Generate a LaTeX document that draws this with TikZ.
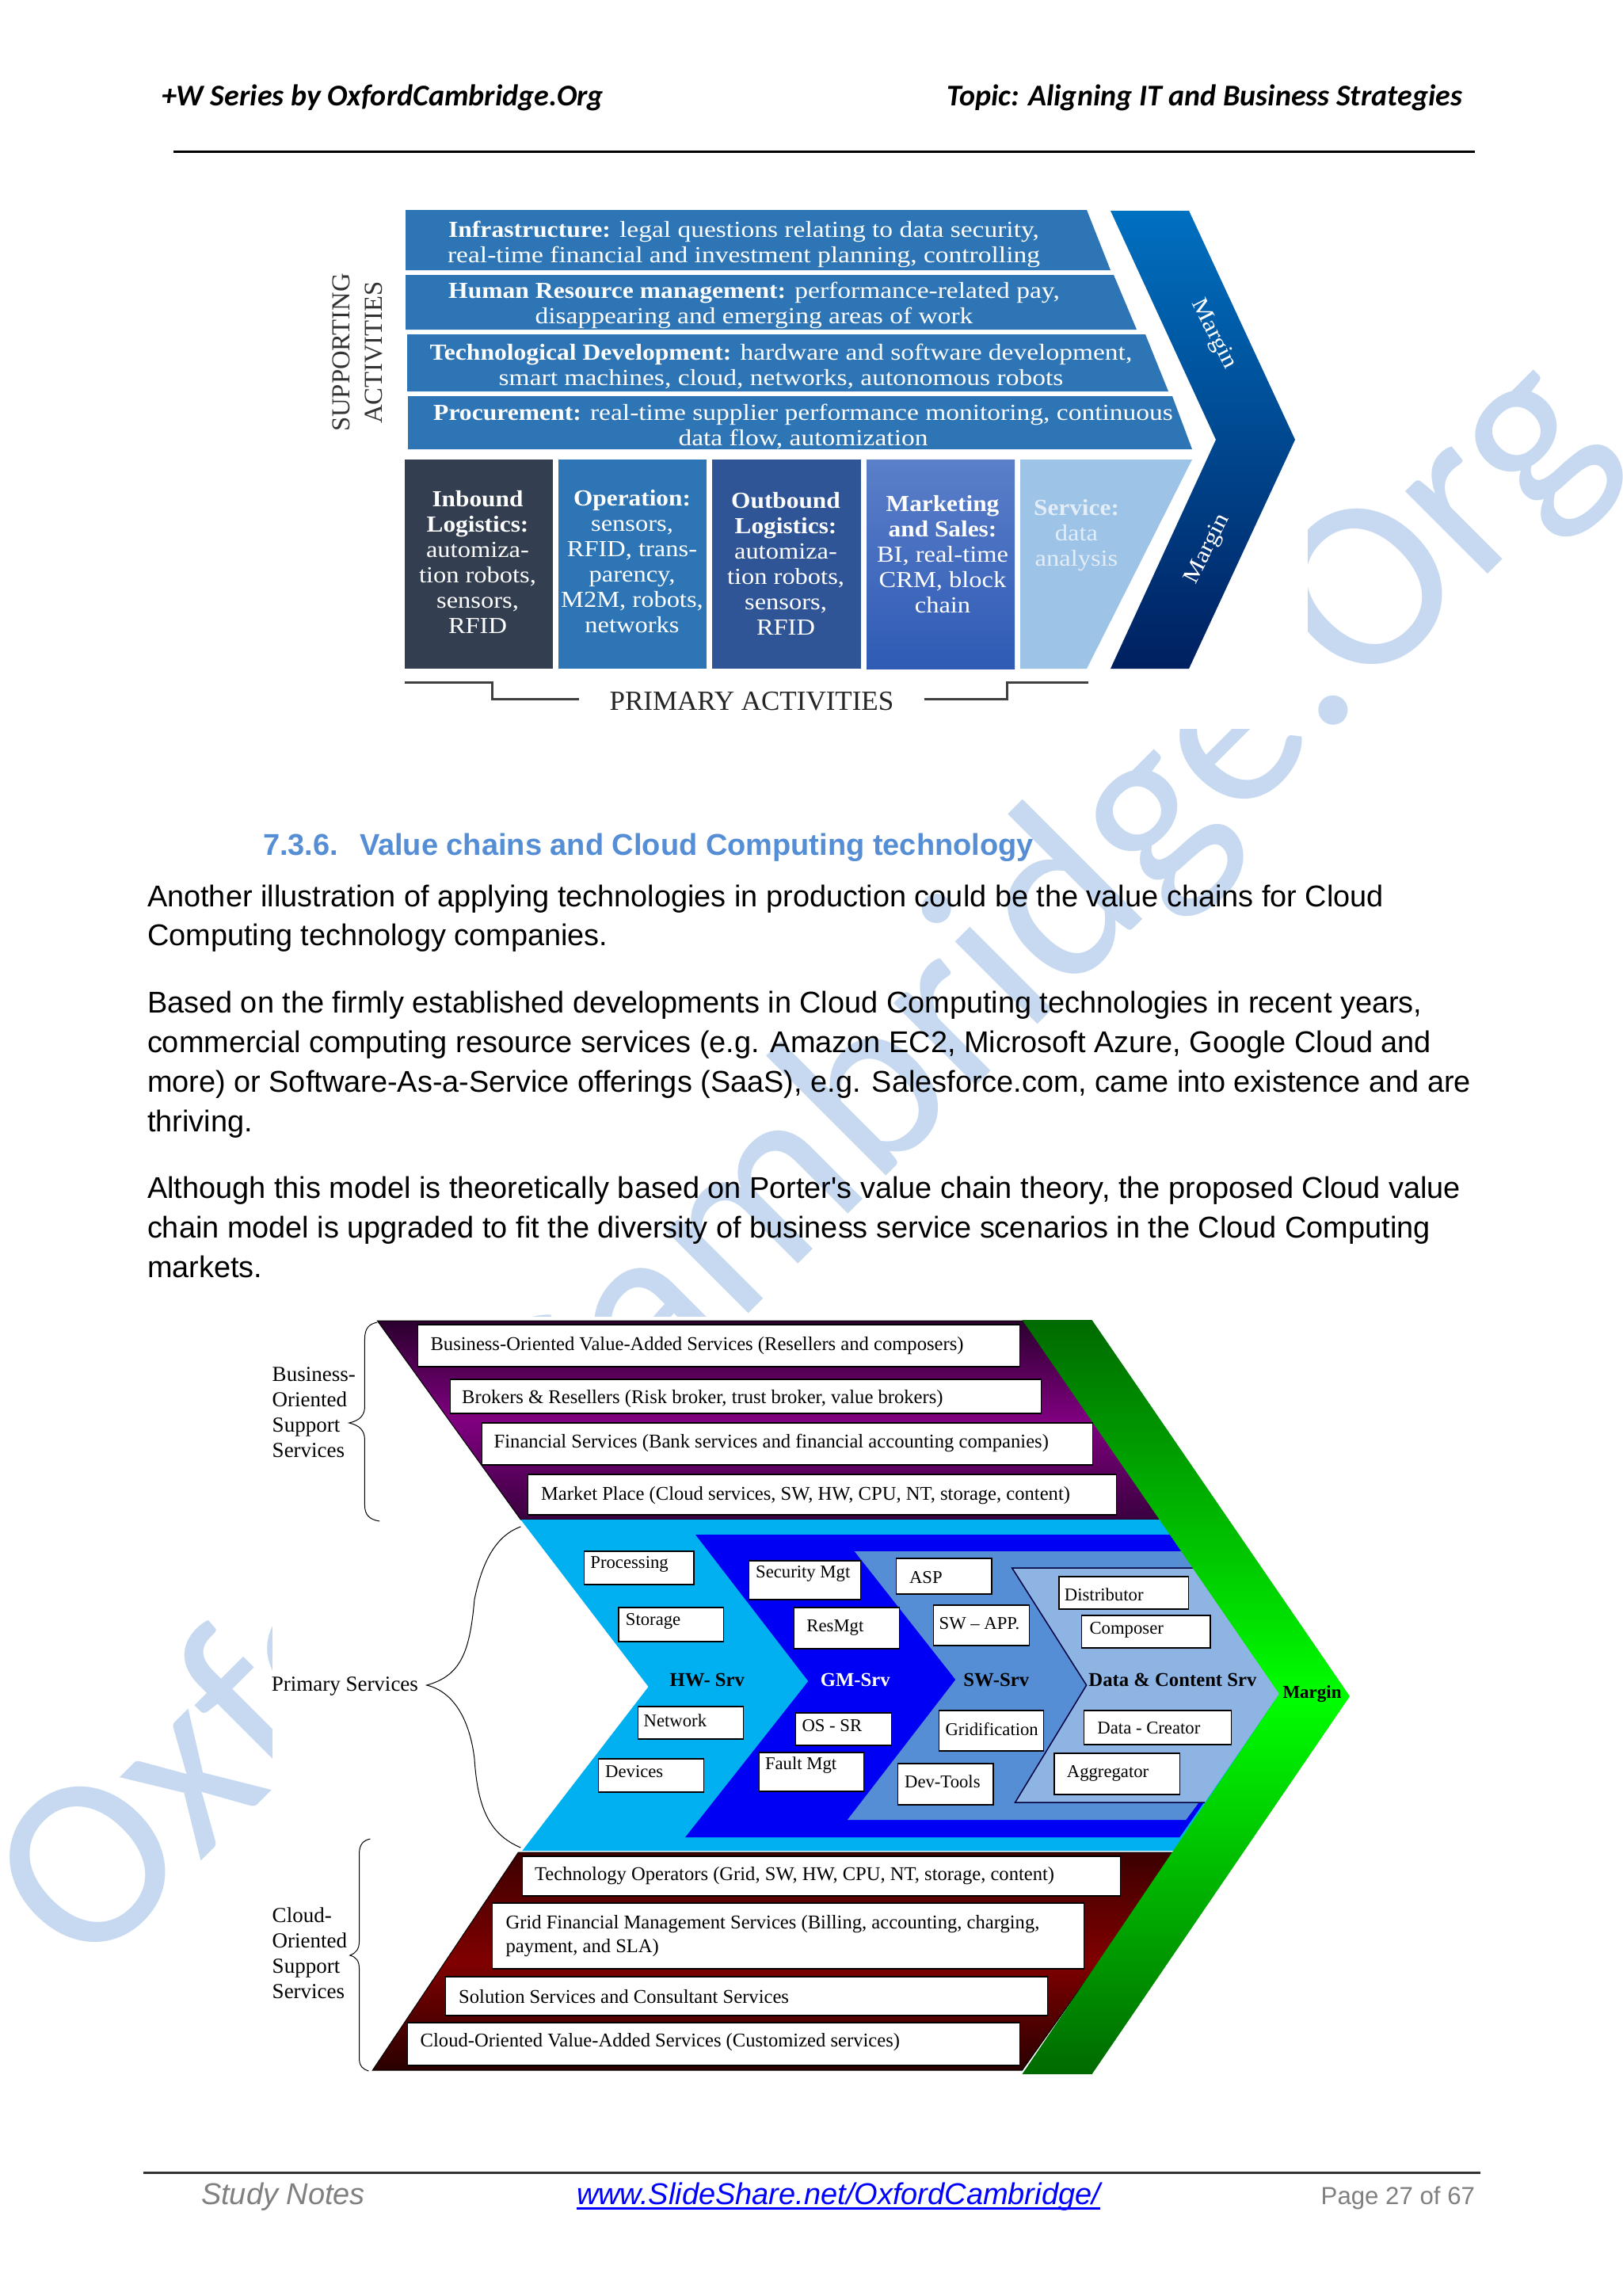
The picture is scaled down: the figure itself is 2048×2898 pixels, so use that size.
\documentclass[tikz,border=0pt]{standalone}
\usepackage{fontspec}
\setmainfont{Liberation Serif}
\newfontfamily\calf{Carlito}
\newfontfamily\arialf{Liberation Sans}
\newfontfamily\capf[FakeStretch=1.155,BoldFeatures={FakeStretch=1.09}]{Liberation Serif}
\newfontfamily\capg[FakeStretch=1.12,BoldFeatures={FakeStretch=1.08}]{Liberation Serif}
\definecolor{wmark}{HTML}{C6D9F0}
\definecolor{barblue}{HTML}{2E75B6}
\definecolor{boxa}{HTML}{333F50}
\definecolor{boxb}{HTML}{2E75B6}
\definecolor{boxc}{HTML}{2F5597}
\definecolor{boxdt}{HTML}{5B7FC9}
\definecolor{boxdb}{HTML}{2F5BB5}
\definecolor{boxe}{HTML}{9DC3E6}
\definecolor{boxetext}{HTML}{E3EDF8}
\definecolor{chevt}{HTML}{0070C0}
\definecolor{chevb}{HTML}{002060}
\definecolor{headblue}{HTML}{558ED5}
\definecolor{cyanhw}{HTML}{00B0F0}
\definecolor{bluegm}{HTML}{0000F5}
\definecolor{bluesw}{HTML}{558ED5}
\definecolor{bluedc}{HTML}{8EB4E3}
\definecolor{purpt}{HTML}{2A002E}
\definecolor{purpm}{HTML}{800080}
\definecolor{purpb}{HTML}{3A003F}
\definecolor{redt}{HTML}{3C0000}
\definecolor{redm}{HTML}{800000}
\definecolor{redb}{HTML}{2A0000}
\definecolor{greent}{HTML}{006A00}
\definecolor{greenm}{HTML}{00FF00}
\definecolor{greenb}{HTML}{006A00}
\tikzset{
  plain/.style={inner sep=0pt,outer sep=0pt},
  bodyline/.style={plain,anchor=base west,font=\arialf\fontsize{37.9}{50}\selectfont},
  captext/.style={plain,text=white,align=center,font=\capf\fontsize{29}{32}\selectfont},
  boxlabel/.style={plain,text=white,align=center,font=\capg\fontsize{29}{32}\selectfont},
  whitebox/.style={plain,draw=black,line width=1.2pt,fill=white},
  boxtext/.style={plain,anchor=west,align=left,yshift=-1.5pt,font=\fontsize{24.6}{30}\selectfont},
  smalltext/.style={plain,anchor=west,yshift=-1.5pt,font=\fontsize{22.7}{26}\selectfont},
  sidelabel/.style={plain,anchor=west,align=left,font=\fontsize{27}{32}\selectfont},
  srvlabel/.style={plain,font=\bfseries\fontsize{24.7}{30}\selectfont},
  bracefine/.style={draw=black,line width=1pt},
  bracketline/.style={draw=black!75,line width=3pt},
}
\newcommand{\wbx}[9]{%
  \pgfmathsetmacro\wbw{(#4-#2)*0.98929}\pgfmathsetmacro\wbh{#5-#3}%
  \node[whitebox,minimum width=\wbw pt,minimum height=\wbh pt,anchor=north west] (#1) at (#2,#3) {};
  \node[#9] (#1t) at (#6,#7) {#8};}
\begin{document}
\begin{tikzpicture}[x=1pt,y=-1pt]
\useasboundingbox (0,0) rectangle (2048,2898);
\fill[white] (0,0) rectangle (2048,2898);
\begin{scope}
\clip (0,0) rectangle (2048,2898);
\node[plain,rotate=45,anchor=base west,text=wmark,font=\calf\fontsize{308}{308}\selectfont] (wm) at (108,2495) {OxfordCambridge.Org};
\end{scope}
% white picture grounds
\fill[white] (380,240) rectangle (1651,920);
\fill[white] (344,1662) rectangle (1730,2640);

% header
\node[plain,anchor=base west,font=\calf\bfseries\itshape\fontsize{38}{44}\selectfont] (hl) at (204,134) {+W Series by OxfordCambridge.Org};
\node[plain,anchor=base east,font=\calf\bfseries\itshape\fontsize{38}{44}\selectfont] (hr) at (1846,134) {Topic: Aligning IT and Business Strategies};
\coordinate (ra) at (219,192); \coordinate (rb) at (1862,192);
\draw[line width=3pt] (ra) -- (rb);

% upper value chain
\fill[barblue] (512,265) -- (1372,265) -- (1402,341) -- (512,341) -- cycle;
\fill[barblue] (512,347) -- (1406,347) -- (1435,416) -- (512,416) -- cycle;
\fill[barblue] (514,422) -- (1446,422) -- (1475,494) -- (514,494) -- cycle;
\fill[barblue] (515,500) -- (1480,500) -- (1505,567) -- (515,567) -- cycle;
\fill[boxa] (511,580) rectangle (698,844);
\fill[boxb] (705,580) rectangle (892,844);
\fill[boxc] (899,580) rectangle (1087,844);
\shade[top color=boxdt,bottom color=boxdb] (1094,580) rectangle (1281,844);
\fill[boxe] (1288,580) -- (1505,580) -- (1372,844) -- (1288,844) -- cycle;
\shade[top color=chevt,bottom color=chevb] (1402,266) -- (1501,266) -- (1635,555) -- (1501,844) -- (1402,844) -- (1535,555) -- cycle;
\node[captext] (t1) at (939,308) {\textbf{Infrastructure:} legal questions relating to data security,\\real-time financial and investment planning, controlling};
\node[captext] (t2) at (952,385) {\textbf{Human Resource management:} performance-related pay,\\disappearing and emerging areas of work};
\node[captext] (t3) at (986,463) {\textbf{Technological Development:} hardware and software development,\\smart machines, cloud, networks, autonomous robots};
\node[captext] (t4) at (1014,539) {\textbf{Procurement:} real-time supplier performance monitoring, continuous\\data flow, automization};
\node[boxlabel] (p1) at (603,709) {\textbf{Inbound}\\\textbf{Logistics:}\\automiza-\\tion robots,\\sensors,\\RFID};
\node[boxlabel] (p2) at (798,709) {\textbf{Operation:}\\sensors,\\RFID, trans-\\parency,\\M2M, robots,\\networks};
\node[boxlabel] (p3) at (992,711) {\textbf{Outbound}\\\textbf{Logistics:}\\automiza-\\tion robots,\\sensors,\\RFID};
\node[boxlabel] (p4) at (1190,700) {\textbf{Marketing}\\\textbf{and Sales:}\\BI, real-time\\CRM, block\\chain};
\node[boxlabel,text=boxetext] (p5) at (1359,676) {\textbf{Service:}\\data\\analysis};
\node[plain,rotate=-63,text=white,font=\capg\fontsize{29}{32}\selectfont] (m1) at (1532,422) {Margin};
\node[plain,rotate=63,text=white,font=\capg\fontsize{29}{32}\selectfont] (m2) at (1525,693) {Margin};
\node[plain,rotate=90,align=center,text=black!80,font=\fontsize{32.7}{41}\selectfont] (sa) at (451,445) {SUPPORTING\\ACTIVITIES};
\node[plain,text=black!85,font=\fontsize{35}{40}\selectfont] (pa) at (949,885) {PRIMARY ACTIVITIES};
\coordinate (ba) at (511,861); \coordinate (bb) at (731,882);
\coordinate (bc) at (1167,882); \coordinate (bd) at (1374,861);
\draw[bracketline] (ba) -- (621,861) -- (621,882) -- (bb);
\draw[bracketline] (bc) -- (1271,882) -- (1271,861) -- (bd);

% heading and body
\node[plain,anchor=base west,text=headblue,font=\arialf\bfseries\fontsize{38}{44}\selectfont] (h0) at (332,1079) {7.3.6.};
\node[plain,anchor=base west,text=headblue,font=\arialf\bfseries\fontsize{38}{44}\selectfont] (h1) at (454,1079) {Value chains and Cloud Computing technology};
\node[bodyline] (b1) at (186,1144) {Another illustration of applying technologies in production could be the value chains for Cloud};
\node[bodyline] (b2) at (186,1193) {Computing technology companies.};
\node[bodyline] (b3) at (186,1278) {Based on the firmly established developments in Cloud Computing technologies in recent years,};
\node[bodyline] (b4) at (186,1328) {commercial computing resource services (e.g. Amazon EC2, Microsoft Azure, Google Cloud and};
\node[bodyline] (b5) at (186,1378) {more) or Software-As-a-Service offerings (SaaS), e.g. Salesforce.com, came into existence and are};
\node[bodyline] (b6) at (186,1428) {thriving.};
\node[bodyline] (b7) at (186,1512) {Although this model is theoretically based on Porter's value chain theory, the proposed Cloud value};
\node[bodyline] (b8) at (186,1562) {chain model is upgraded to fit the diversity of business service scenarios in the Cloud Computing};
\node[bodyline] (b9) at (186,1612) {markets.};

\begin{scope}[shift={(3.43pt,0pt)},xscale=0.98929]
% cloud value chain: bands
\shade[top color=purpt,bottom color=purpb,middle color=purpm,draw=black,line width=1pt] (478,1667) -- (1310,1667) -- (1485,1918) -- (661,1918) -- cycle;
\fill[cyanhw] (661,1918) -- (1490,1918) -- (1629,2138) -- (1502,2336) -- (663,2336) -- (824,2129) -- cycle;
\fill[bluegm] (884,1937) -- (1510,1937) -- (1629,2138) -- (1502,2319) -- (871,2319) -- (1028,2122) -- cycle;
\fill[bluesw] (1087,1958) -- (1520,1958) -- (1629,2138) -- (1510,2297) -- (1078,2297) -- (1216,2120) -- cycle;
\fill[bluedc] (1288,1979) -- (1530,1979) -- (1629,2138) -- (1534,2275) -- (1292,2275) -- (1383,2127) -- cycle;
\draw[black!75!blue,line width=1.5pt] (1534,1979) -- (1288,1979) -- (1383,2127) -- (1292,2275) -- (1534,2275);
\shade[top color=redt,bottom color=redb,middle color=redm,draw=black,line width=1pt] (658,2338) -- (1498,2338) -- (1301,2613) -- (472,2613) -- cycle;
\shade[top color=greent,bottom color=greenb,middle color=greenm] (1301,1666) -- (1390,1666) -- (1719,2141) -- (1390,2618) -- (1301,2618) -- (1629,2138) -- cycle;

% boxes
\wbx{c1}{530}{1672}{1298}{1725}{546}{1697}{Business-Oriented Value-Added Services (Resellers and composers)}{boxtext}
\wbx{c2}{571}{1741}{1325}{1784}{586}{1764}{Brokers \& Resellers (Risk broker, trust broker, value brokers)}{boxtext}
\wbx{c3}{612}{1796}{1391}{1849}{627}{1820}{Financial Services (Bank services and financial accounting companies)}{boxtext}
\wbx{c4}{670}{1861}{1421}{1912}{687}{1886}{Market Place (Cloud services, SW, HW, CPU, NT, storage, content)}{boxtext}
\wbx{s1}{742}{1958}{882}{2000}{750}{1973}{Processing}{smalltext}
\wbx{s2}{786}{2029}{920}{2072}{795}{2045}{Storage}{smalltext}
\wbx{s3}{811}{2154}{945}{2195}{818}{2170}{Network}{smalltext}
\wbx{s4}{760}{2220}{895}{2262}{769}{2235}{Devices}{smalltext}
\wbx{s5}{952}{1970}{1095}{2019}{961}{1985}{Security Mgt}{smalltext}
\wbx{s6}{1010}{2029}{1144}{2081}{1026}{2053}{ResMgt}{smalltext}
\wbx{s7}{1012}{2162}{1134}{2203}{1020}{2177}{OS - SR}{smalltext}
\wbx{s8}{965}{2212}{1099}{2261}{973}{2227}{Fault Mgt}{smalltext}
\wbx{s9}{1140}{1967}{1262}{2012}{1157}{1990}{ASP}{smalltext}
\wbx{s10}{1188}{2026}{1310}{2077}{1195}{2048}{SW -- APP.}{smalltext}
\wbx{s11}{1195}{2159}{1328}{2210}{1203}{2181}{Gridification}{smalltext}
\wbx{s12}{1142}{2226}{1264}{2278}{1151}{2247}{Dev-Tools}{smalltext}
\wbx{s13}{1348}{1990}{1513}{2031}{1355}{2011}{Distributor}{smalltext}
\wbx{s14}{1377}{2039}{1541}{2080}{1387}{2056}{Composer}{smalltext}
\wbx{s15}{1380}{2159}{1568}{2202}{1397}{2180}{Data - Creator}{smalltext}
\wbx{s16}{1342}{2213}{1502}{2265}{1358}{2237}{Aggregator}{smalltext}
\wbx{d1}{663}{2343}{1426}{2393}{679}{2366}{Technology Operators (Grid, SW, HW, CPU, NT, storage, content)}{boxtext}
\wbx{d2}{625}{2402}{1380}{2485}{642}{2442}{Grid Financial Management Services (Billing, accounting, charging,\\payment, and SLA)}{boxtext}
\wbx{d3}{565}{2495}{1333}{2544}{582}{2519}{Solution Services and Consultant Services}{boxtext}
\wbx{d4}{517}{2553}{1298}{2607}{533}{2576}{Cloud-Oriented Value-Added Services (Customized services)}{boxtext}

\node[srvlabel] (v1) at (899,2120) {HW- Srv};
\node[srvlabel,text=white] (v2) at (1088,2120) {GM-Srv};
\node[srvlabel] (v3) at (1268,2120) {SW-Srv};
\node[srvlabel] (v4) at (1493,2120) {Data \& Content Srv};
\node[plain,font=\bfseries\fontsize{23}{26}\selectfont] (v5) at (1671,2138) {Margin};

% side labels and braces
\node[sidelabel] (l1) at (344,1783) {\fontsize{27}{32.5}\selectfont Business-\\Oriented\\Support\\Services};
\node[sidelabel] (l2) at (343,2128) {Primary Services};
\node[sidelabel] (l3) at (344,2465) {\fontsize{27}{32.5}\selectfont Cloud-\\Oriented\\Support\\Services};
\draw[bracefine] (478,1669) .. controls (468,1671) and (462,1676) .. (462,1690) -- (462,1775) .. controls (462,1787) and (455,1793) .. (442,1796) .. controls (455,1799) and (462,1805) .. (462,1818) -- (462,1900) .. controls (462,1912) and (468,1918) .. (481,1920);
\draw[bracefine] (661,1927) .. controls (630,1938) and (612,1970) .. (602,2019) .. controls (596,2085) and (585,2115) .. (541,2127) .. controls (575,2135) and (596,2170) .. (602,2220) .. controls (606,2280) and (620,2315) .. (661,2332);
\draw[bracefine] (469,2321) .. controls (460,2323) and (455,2328) .. (455,2340) -- (455,2450) .. controls (455,2460) and (451,2465) .. (443,2468) .. controls (451,2470) and (455,2475) .. (455,2485) -- (455,2598) .. controls (455,2608) and (460,2612) .. (467,2614);
\end{scope}

% footer
\coordinate (fa) at (181,2742); \coordinate (fb) at (1869,2742);
\draw[line width=3pt,black!80] (fa) -- (fb);
\node[plain,anchor=base west,text=black!50,font=\arialf\itshape\fontsize{38}{44}\selectfont] (f1) at (254,2782) {Study Notes};
\node[plain,anchor=base west,text=blue,font=\arialf\itshape\fontsize{38}{44}\selectfont] (f2) at (728,2782) {www.SlideShare.net/OxfordCambridge/};
\draw[blue,line width=3pt] ([yshift=-5pt]f2.base west) -- ([yshift=-5pt]f2.base east);
\node[plain,anchor=base east,text=black!50,font=\arialf\fontsize{31.2}{40}\selectfont] (f3) at (1862,2782) {Page 27 of 67};
\end{tikzpicture}
\end{document}
